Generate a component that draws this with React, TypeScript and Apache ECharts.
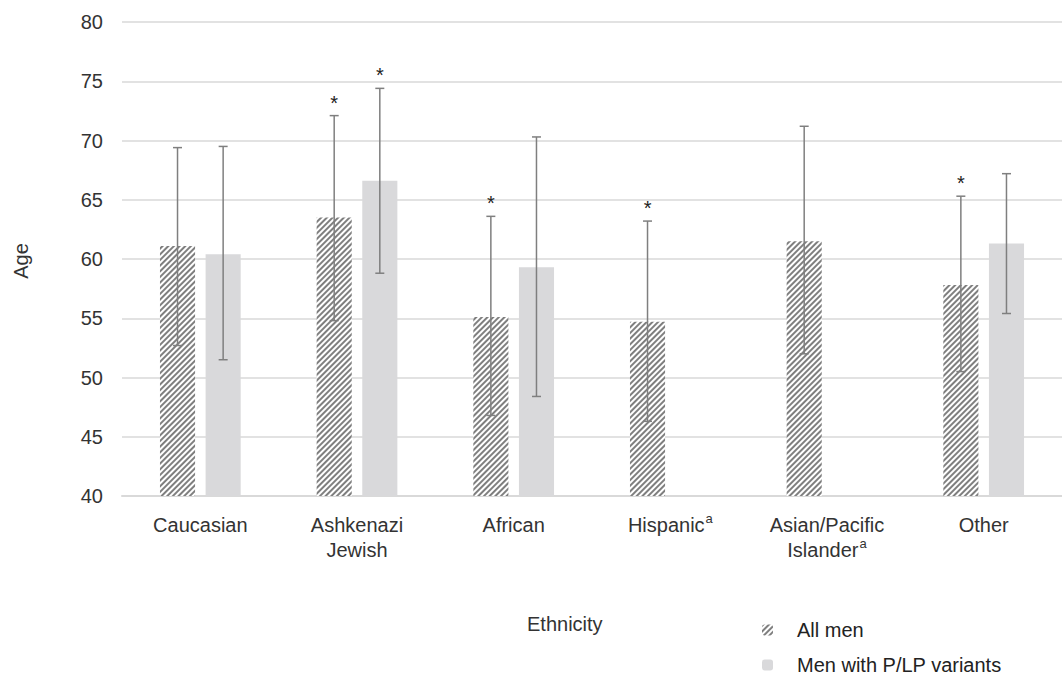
import React, { useEffect, useRef } from "react";
import * as echarts from "echarts";

const categories = ["Caucasian", "Ashkenazi\nJewish", "African", "Hispanic{sup|a}", "Asian/Pacific\nIslander{sup|a}", "Other"];
const allMen = [61.1, 63.5, 55.1, 54.7, 61.5, 57.8];
const allMenLow = [52.7, 54.8, 46.8, 46.3, 52.0, 50.5];
const allMenHigh = [69.4, 72.1, 63.6, 63.2, 71.2, 65.3];
const allMenSig = [false, true, true, true, false, true];
const plp: (number | null)[] = [60.4, 66.6, 59.3, null, null, 61.3];
const plpLow: (number | null)[] = [51.5, 58.8, 48.4, null, null, 55.4];
const plpHigh: (number | null)[] = [69.5, 74.4, 70.3, null, null, 67.2];
const plpSig = [false, true, false, false, false, false];

const FONT = "Liberation Sans, Arial, sans-serif";
const BAR_W = 0.224;
const GAP = 0.3;

function errorSeries(low: (number | null)[], high: (number | null)[], sig: boolean[], side: number) {
  return {
    type: "custom",
    silent: true,
    z: 5,
    data: low.map((l, i) => [i, l, high[i], sig[i] ? 1 : 0]),
    renderItem: (params: any, api: any) => {
      const lo = api.value(1);
      const hi = api.value(2);
      if (lo == null || hi == null || isNaN(lo) || isNaN(hi)) return null;
      const idx = api.value(0);
      const band = api.size([1, 0])[0];
      const bw = band * BAR_W;
      const off = side * (bw + bw * GAP) / 2;
      const pLo = api.coord([idx, lo]);
      const pHi = api.coord([idx, hi]);
      const x = pLo[0] + off;
      const st = { stroke: "#7f7f7f", lineWidth: 1.5 };
      const children: any[] = [
        { type: "line", shape: { x1: x, y1: pLo[1], x2: x, y2: pHi[1] }, style: st },
        { type: "line", shape: { x1: x - 4.5, y1: pLo[1], x2: x + 4.5, y2: pLo[1] }, style: st },
        { type: "line", shape: { x1: x - 4.5, y1: pHi[1], x2: x + 4.5, y2: pHi[1] }, style: st },
      ];
      if (api.value(3) === 1) {
        children.push({
          type: "text",
          x: x,
          y: pHi[1] - 3,
          style: { text: "*", fill: "#222", font: `20px ${FONT}`, textAlign: "center", textVerticalAlign: "bottom" },
        });
      }
      return { type: "group", children };
    },
  };
}

export default function App() {
  const ref = useRef<HTMLDivElement>(null);
  useEffect(() => {
    if (!ref.current) return;
    const chart = echarts.init(ref.current, null, { renderer: "svg" });
    const decal = {
      symbol: "rect",
      symbolSize: 1,
      dashArrayX: [[1, 0]],
      dashArrayY: [2, 2],
      rotation: -Math.PI / 4,
      color: "#7f7f7f",
    };
    const legendText = { fontSize: 20, color: "#222", padding: [0, 0, 0, 19] };
    chart.setOption({
      animation: false,
      textStyle: { fontFamily: FONT },
      grid: { left: 122, top: 22, width: 952, bottom: 181 },
      xAxis: {
        type: "category",
        data: categories,
        axisLine: { lineStyle: { color: "#d9d9d9", width: 2 } },
        axisTick: { show: false },
        axisLabel: {
          color: "#333",
          fontSize: 20,
          lineHeight: 25,
          margin: 16,
          interval: 0,
          rich: { sup: { fontSize: 13, padding: [0, 0, 12, 1], color: "#333" } },
        },
      },
      yAxis: {
        type: "value",
        min: 40,
        max: 80,
        interval: 5,
        axisLine: { show: false },
        axisTick: { show: false },
        splitLine: { lineStyle: { color: "#d9d9d9", width: 1.5 } },
        axisLabel: { color: "#333", fontSize: 20, margin: 19 },
      },
      legend: [
        {
          left: 762,
          top: 620,
          padding: 0,
          itemWidth: 11,
          itemHeight: 11,
          textStyle: legendText,
          data: ["All men"],
        },
        {
          left: 762,
          top: 655,
          padding: 0,
          itemWidth: 11,
          itemHeight: 11,
          textStyle: legendText,
          data: ["Men with P/LP variants"],
        },
      ],
      graphic: [
        { type: "text", left: 527, top: 614, style: { text: "Ethnicity", font: `20px ${FONT}`, fill: "#333" } },
        {
          type: "text",
          x: 21,
          y: 261,
          rotation: Math.PI / 2,
          style: { text: "Age", font: `20px ${FONT}`, fill: "#333", textAlign: "center", textVerticalAlign: "middle" },
        },
      ],
      series: [
        {
          name: "All men",
          type: "bar",
          data: allMen,
          barWidth: BAR_W * 100 + "%",
          barGap: GAP * 100 + "%",
          itemStyle: { color: "#ffffff", decal },
        },
        {
          name: "Men with P/LP variants",
          type: "bar",
          data: plp,
          barWidth: BAR_W * 100 + "%",
          barGap: GAP * 100 + "%",
          itemStyle: { color: "#d9d9db" },
        },
        errorSeries(allMenLow, allMenHigh, allMenSig, -1),
        errorSeries(plpLow, plpHigh, plpSig, 1),
      ],
    });
    return () => chart.dispose();
  }, []);
  return <div ref={ref} style={{ width: 1062, height: 677, position: "absolute", left: 0, top: 0 }} />;
}
